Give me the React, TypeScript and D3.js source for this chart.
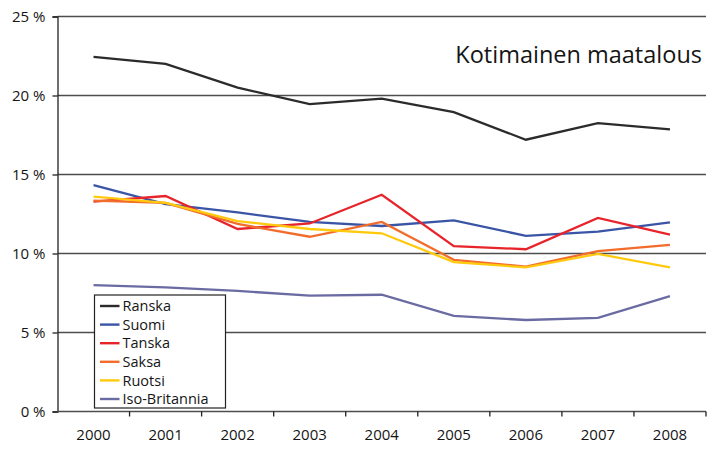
import React, {useRef, useEffect} from 'react'
import * as d3 from 'd3'

const years = ['2000', '2001', '2002', '2003', '2004', '2005', '2006', '2007', '2008']

const ranska = [22.45, 22.0, 20.5, 19.45, 19.8, 18.95, 17.2, 18.25, 17.85]
const suomi = [14.33, 13.13, 12.6, 12.0, 11.74, 12.1, 11.12, 11.38, 11.97]
const tanska = [13.28, 13.64, 11.55, 11.9, 13.72, 10.47, 10.27, 12.25, 11.2]
const saksa = [13.35, 13.2, 11.87, 11.06, 12.0, 9.6, 9.17, 10.15, 10.54]
const ruotsi = [13.6, 13.2, 12.05, 11.55, 11.28, 9.46, 9.12, 9.97, 9.12]
const isoBritannia = [8.0, 7.85, 7.63, 7.33, 7.39, 6.05, 5.79, 5.92, 7.3]

const seriesNames = ['Ranska', 'Suomi', 'Tanska', 'Saksa', 'Ruotsi', 'Iso-Britannia']
const seriesColors = ['#2b2b2b', '#3b55a6', '#e8242b', '#f26c2c', '#ffc90e', '#6b6ba3']
const yTicks = [0, 5, 10, 15, 20, 25]

const title = 'Kotimainen maatalous'

export default function App() {
	const ref = useRef<SVGSVGElement>(null)

	const layout = {width: 707, height: 450, left: 57.5, right: 706, top: 16.5, bottom: 411.5}

	useEffect(() => {
		const svg = d3.select(ref.current)
		svg.selectAll('*').remove()

		const font = "'Open Sans', sans-serif"
		const textColor = '#151515'

		const x = d3.scaleBand()
			.domain(years)
			.range([layout.left, layout.right])

		const y = d3.scaleLinear()
			.domain([0, 25])
			.range([layout.bottom, layout.top])

		// gridlines
		svg.append('g')
			.selectAll('line')
			.data(yTicks.filter(d => d > 0))
			.join('line')
			.attr('x1', layout.left)
			.attr('x2', layout.right)
			.attr('y1', d => y(d))
			.attr('y2', d => y(d))
			.attr('stroke', '#4d4d4d')
			.attr('stroke-width', 1.3)

		// y axis
		const yAxis = svg.append('g')
			.attr('transform', `translate(${layout.left},0)`)
			.call(d3.axisLeft(y).tickValues(yTicks).tickSize(5).tickFormat(d => `${d} %`))
		yAxis.select('.domain').attr('stroke', '#222').attr('stroke-width', 1.3)
		yAxis.selectAll('.tick line').attr('stroke', '#222').attr('stroke-width', 1.3)
		yAxis.selectAll('.tick text')
			.attr('x', -12)
			.attr('dy', '0.36em')
			.attr('fill', textColor)
			.style('font-family', font)
			.style('font-size', '15px')

		// x axis, ticks between categories
		const xAxis = svg.append('g')
			.attr('transform', `translate(0,${layout.bottom})`)
		xAxis.append('line')
			.attr('x1', layout.left)
			.attr('x2', layout.right)
			.attr('stroke', '#4d4d4d')
			.attr('stroke-width', 1.3)
		xAxis.selectAll('.xtick')
			.data(years)
			.join('line')
			.attr('class', 'xtick')
			.attr('x1', d => x(d)! + x.bandwidth())
			.attr('x2', d => x(d)! + x.bandwidth())
			.attr('y1', 0)
			.attr('y2', 5)
			.attr('stroke', '#222')
			.attr('stroke-width', 1.3)
		xAxis.selectAll('.xlabel')
			.data(years)
			.join('text')
			.attr('class', 'xlabel')
			.attr('x', d => x(d)! + x.bandwidth() / 2)
			.attr('y', 28)
			.attr('text-anchor', 'middle')
			.attr('fill', textColor)
			.style('font-family', font)
			.style('font-size', '15px')
			.text(d => d)

		// lines
		const allSeries = [ranska, suomi, tanska, saksa, ruotsi, isoBritannia]
		const line = d3.line<number>()
			.x((d, i) => x(years[i])! + x.bandwidth() / 2)
			.y(d => y(d))

		svg.append('g')
			.selectAll('path')
			.data(allSeries)
			.join('path')
			.attr('d', d => line(d))
			.attr('fill', 'none')
			.attr('stroke', (d, i) => seriesColors[i])
			.attr('stroke-width', 2.3)
			.attr('stroke-linejoin', 'miter')

		// legend
		const legend = svg.append('g').attr('transform', 'translate(94.5,295)')
		legend.append('rect')
			.attr('width', 131)
			.attr('height', 113)
			.attr('fill', 'white')
			.attr('stroke', '#222')
			.attr('stroke-width', 1.2)
		const rows = legend.selectAll('.row')
			.data(seriesNames)
			.join('g')
			.attr('class', 'row')
			.attr('transform', (d, i) => `translate(0,${11 + i * 18.6})`)
		rows.append('line')
			.attr('x1', 5.5)
			.attr('x2', 25)
			.attr('stroke', (d, i) => seriesColors[i])
			.attr('stroke-width', 2.4)
		rows.append('text')
			.attr('x', 28)
			.attr('dy', '0.36em')
			.attr('fill', textColor)
			.style('font-family', font)
			.style('font-size', '14.5px')
			.text(d => d)

		// title
		svg.append('text')
			.attr('x', 702)
			.attr('y', 63)
			.attr('text-anchor', 'end')
			.attr('fill', textColor)
			.style('font-family', font)
			.style('font-size', '23.5px')
			.text(title)
	}, [])

	return (
		<div style={{position: 'absolute', left: 0, top: 0}}>
			<svg width={layout.width} height={layout.height} ref={ref} style={{display: 'block', background: 'white'}} />
		</div>
	)
}
